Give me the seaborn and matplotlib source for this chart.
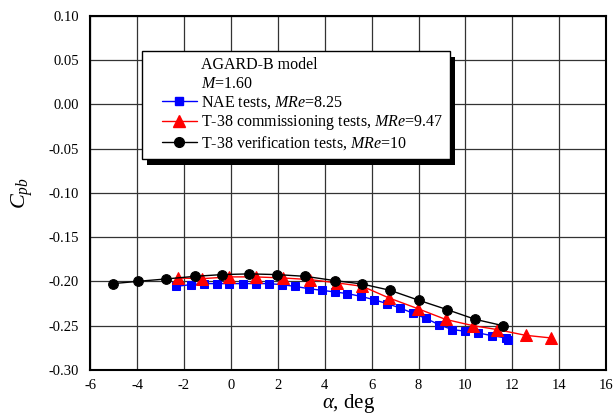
import matplotlib

matplotlib.use("Agg")

import matplotlib.pyplot as plt
import pandas as pd
import seaborn as sns
from matplotlib.legend_handler import HandlerLine2D
from matplotlib.lines import Line2D
from matplotlib.patches import Rectangle

# NAE tests, MRe=8.25
nae_alpha = [-2.34, -1.72, -1.16, -0.61, -0.06, 0.51, 1.05, 1.62, 2.18, 2.73, 3.32, 3.89, 4.43,
             4.96, 5.53, 6.09, 6.66, 7.20, 7.76, 8.32, 8.87, 9.43, 10.00, 10.54, 11.11, 11.71, 11.82]
nae_cpb = [-0.2057, -0.2038, -0.2026, -0.2026, -0.2026, -0.2026, -0.2026, -0.2026, -0.2038, -0.2057,
           -0.2083, -0.2102, -0.2120, -0.2139, -0.2169, -0.2207, -0.2252, -0.2300, -0.2360, -0.2420,
           -0.2490, -0.2545, -0.2564, -0.2583, -0.2613, -0.2639, -0.2658]

# T-38 commissioning tests, MRe=9.47
t38c_alpha = [-2.26, -1.23, -0.06, 1.05, 2.21, 3.39, 4.53, 5.60, 6.73, 7.98, 9.15, 10.30, 11.35, 12.56, 13.65]
t38c_cpb = [-0.1962, -0.1970, -0.1950, -0.1950, -0.1962, -0.1981, -0.2018, -0.2056, -0.2187, -0.2310,
            -0.2430, -0.2500, -0.2545, -0.2610, -0.2640]

# T-38 verification tests, MRe=10
t38v_alpha = [-5.02, -3.96, -2.75, -1.55, -0.38, 0.79, 1.97, 3.18, 4.43, 5.57, 6.78, 8.01, 9.22, 10.42, 11.58]
t38v_cpb = [-0.2026, -0.2000, -0.1973, -0.1944, -0.1924, -0.1916, -0.1924, -0.1944, -0.1992, -0.2029,
            -0.2101, -0.2214, -0.2320, -0.2430, -0.2500]

x_ticks = list(range(-6, 17, 2))
y_ticks = [0.10, 0.05, 0.00, -0.05, -0.10, -0.15, -0.20, -0.25, -0.30]

sns.set_theme(style="white")
plt.rcParams.update({
    "font.family": ["Liberation Serif", "DejaVu Serif"],
    "mathtext.fontset": "custom",
    "mathtext.rm": "Liberation Serif",
    "mathtext.it": "Liberation Serif:italic",
    "axes.unicode_minus": False,
    "axes.edgecolor": "black",
    "axes.linewidth": 1.5,
    "xtick.color": "black",
    "ytick.color": "black",
    "text.color": "black",
    "axes.labelcolor": "black",
})

fig = plt.figure(figsize=(6.13, 4.16), dpi=100)
ax = fig.add_axes([0.147, 0.111, 0.842, 0.851])

series = [
    ("NAE tests", nae_alpha, nae_cpb, "#0000FF", "s", 5.8),
    ("T-38 commissioning", t38c_alpha, t38c_cpb, "#FF0000", "^", 8.0),
    ("T-38 verification", t38v_alpha, t38v_cpb, "black", "o", 7.0),
]
for name, xs, ys, color, marker, ms in series:
    df = pd.DataFrame({"alpha": xs, "cpb": ys})
    sns.lineplot(data=df, x="alpha", y="cpb", color=color, marker=marker, markersize=ms,
                 markeredgecolor=color, linewidth=1.0, sort=False, ax=ax, zorder=3)

ax.set_xlim(-6, 16)
ax.set_ylim(-0.30, 0.10)
ax.set_xticks(x_ticks)
ax.set_yticks(y_ticks)
ax.set_yticklabels([f"{v:.2f}" for v in y_ticks])
ax.grid(True, color="#333333", linewidth=0.9)
ax.set_axisbelow(True)
ax.tick_params(axis="x", direction="inout", length=9, width=1.5, labelsize=10.5, pad=2)
ax.tick_params(axis="y", direction="out", length=5, width=1.5, labelsize=10.5, pad=3)
for s in ax.spines.values():
    s.set_visible(True)

ax.set_xlabel(r"$\alpha$, deg", fontsize=15, labelpad=0)
ax.set_ylabel(r"$C_{pb}$", fontsize=16, labelpad=10)

blank = Line2D([], [], linestyle="none")
handles = [
    blank, blank,
    Line2D([], [], color="#0000FF", marker="s", markersize=5.8, linewidth=1.0),
    Line2D([], [], color="#FF0000", marker="^", markersize=8.0, linewidth=1.0),
    Line2D([], [], color="black", marker="o", markersize=7.0, linewidth=1.0),
]
labels = [
    "AGARD-B model",
    "$M$=1.60",
    "NAE tests, $MRe$=8.25",
    "T-38 commissioning tests, $MRe$=9.47",
    "T-38 verification tests, $MRe$=10",
]
leg = ax.legend(handles, labels, loc="upper left", bbox_to_anchor=(0.101, 0.901),
                borderaxespad=0, fontsize=11.5, frameon=True, fancybox=False,
                edgecolor="black", framealpha=1, handlelength=3.0, handletextpad=0.31,
                labelspacing=0.15, borderpad=0.4,
                handler_map={Line2D: HandlerLine2D(xpad=0.81)})
leg.get_frame().set_linewidth(1.0)
leg.set_zorder(6)

# black drop shadow behind the legend box
fig.canvas.draw()
bb = leg.get_window_extent().transformed(ax.transAxes.inverted())
dx = 5 / (ax.bbox.width)
dy = 6 / (ax.bbox.height)
ax.add_patch(Rectangle((bb.x0 + dx, bb.y0 - dy), bb.width, bb.height, transform=ax.transAxes,
                       facecolor="black", edgecolor="none", zorder=5, clip_on=False))

fig.savefig("out.png", dpi=100)
